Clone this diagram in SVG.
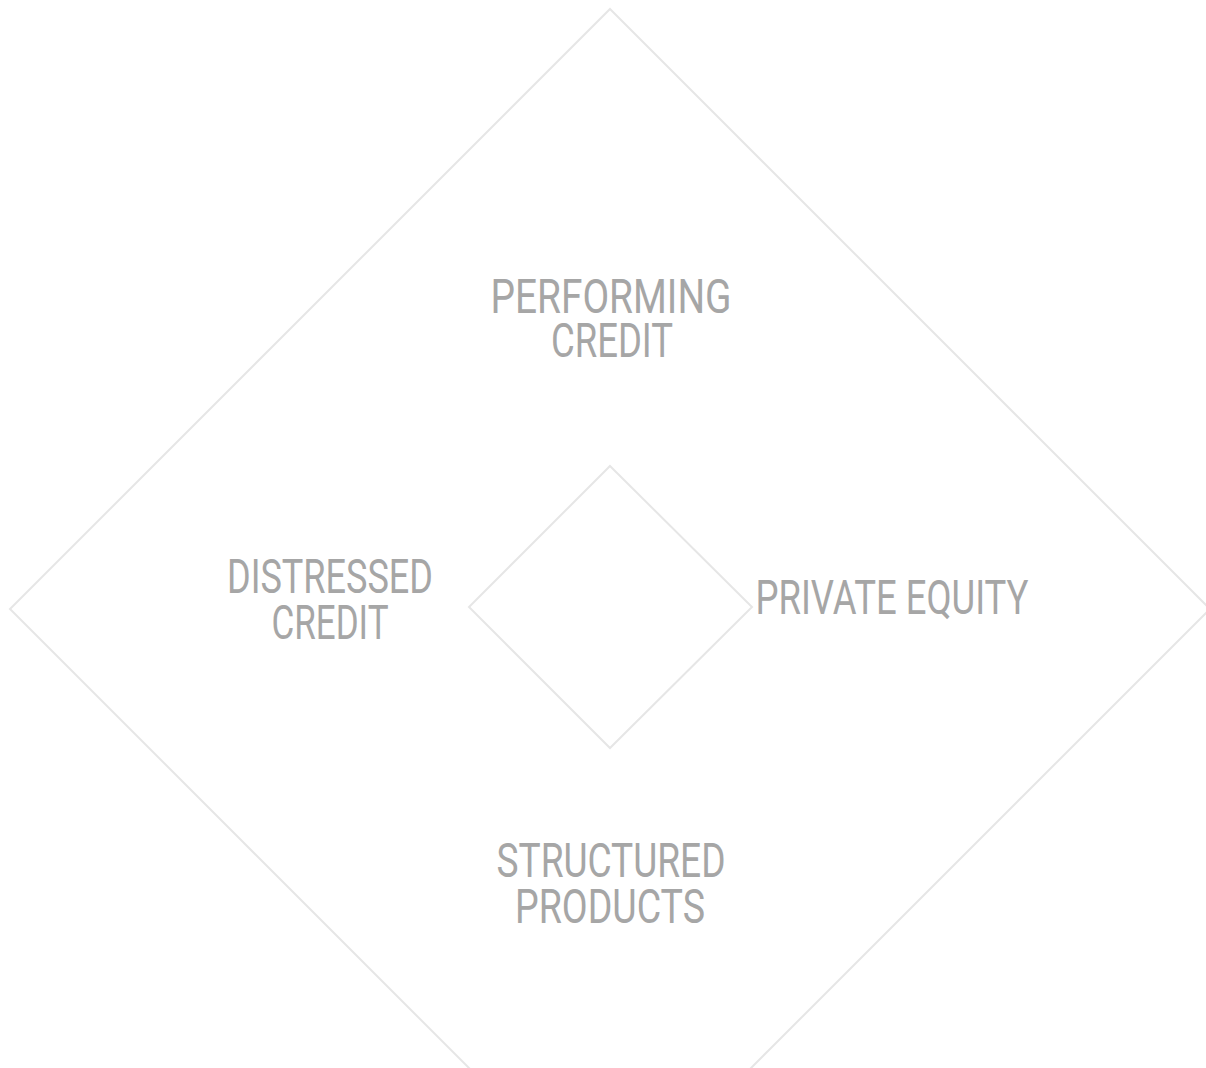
<svg xmlns="http://www.w3.org/2000/svg" width="1206" height="1068" viewBox="0 0 1206 1068">
<style>
.d{fill:none;stroke:#e6e6e6;stroke-width:2}
.t{font-family:Roboto,"Liberation Sans",Arial,sans-serif;font-weight:400;font-size:48px;fill:#a6a6a6;text-anchor:middle}
</style>
<rect width="1206" height="1068" fill="#ffffff"/>
<g id="connectors"></g>
<g id="outer-diamond"><polygon class="d" points="610,9 1210,609 610,1209 10,609"/></g>
<g id="inner-diamond"><polygon class="d" points="610,466 752,607 610,748 469,607"/></g>
<g id="performing-credit">
<text class="t" x="611" y="313" textLength="241" lengthAdjust="spacingAndGlyphs">PERFORMING</text>
<text class="t" x="612" y="357" textLength="122" lengthAdjust="spacingAndGlyphs">CREDIT</text>
</g>
<g id="distressed-credit">
<text class="t" x="330" y="593" textLength="206" lengthAdjust="spacingAndGlyphs">DISTRESSED</text>
<text class="t" x="330" y="639" textLength="117" lengthAdjust="spacingAndGlyphs">CREDIT</text>
</g>
<g id="private-equity">
<text class="t" x="892" y="614" textLength="273" lengthAdjust="spacingAndGlyphs">PRIVATE EQUITY</text>
</g>
<g id="structured-products">
<text class="t" x="611" y="877" textLength="229" lengthAdjust="spacingAndGlyphs">STRUCTURED</text>
<text class="t" x="610" y="923" textLength="190" lengthAdjust="spacingAndGlyphs">PRODUCTS</text>
</g>
</svg>
